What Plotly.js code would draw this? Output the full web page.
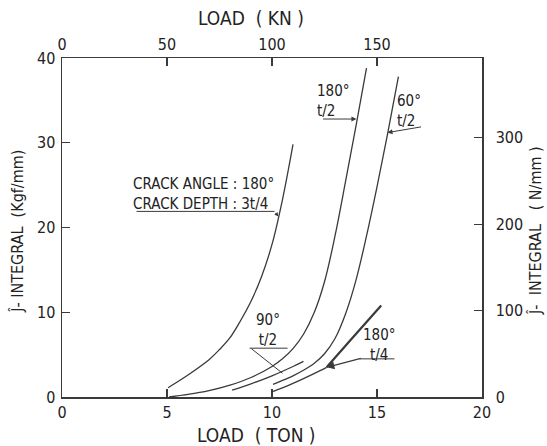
<!DOCTYPE html>
<html>
<head>
<meta charset="utf-8">
<script src="https://cdn.plot.ly/plotly-3.0.1.min.js"></script>
<style>html,body{margin:0;padding:0;background:#fff;}#chart{width:547px;height:446px;}</style>
</head>
<body>
<div id="chart"></div>
<script>
// LOAD (TON) vs J-INTEGRAL (Kgf/mm)
const a180_3t4_x = [5.05, 6.0, 7.0, 7.5, 8.0, 8.5, 9.0, 9.5, 10.0, 10.5, 11.0];
const a180_3t4_y = [1.1, 2.6, 4.4, 5.6, 7.0, 9.0, 11.3, 14.2, 18.0, 23.3, 29.8];

const a180_t2_x = [5.1, 6.0, 7.0, 8.0, 9.0, 10.0, 10.5, 11.0, 11.5, 12.0, 12.5, 13.0, 13.5, 14.0, 14.5];
const a180_t2_y = [0.0, 0.3, 0.75, 1.4, 2.3, 3.6, 4.5, 5.7, 7.4, 9.9, 13.6, 19.0, 25.4, 32.0, 38.8];

const a90_t2_x = [8.1, 9.0, 10.0, 11.0, 11.5];
const a90_t2_y = [0.8, 1.55, 2.5, 3.6, 4.2];

const a60_t2_x = [10.05, 10.5, 11.0, 11.5, 12.0, 12.5, 13.0, 13.5, 14.0, 14.5, 15.0, 15.5, 16.02];
const a60_t2_y = [1.5, 1.95, 2.5, 3.15, 3.95, 5.1, 6.9, 9.8, 13.8, 19.0, 24.8, 31.0, 37.8];

const a180_t4_lo_x = [10.0, 11.0, 12.0, 12.6];
const a180_t4_lo_y = [0.6, 1.6, 2.75, 3.5];
const a180_t4_hi_x = [12.6, 13.7, 15.2];
const a180_t4_hi_y = [3.5, 6.6, 10.8];

const xTonTicks = [0, 5, 10, 15, 20];
const xKnTicks = [0, 50, 100, 150];
const yKgfTicks = [0, 10, 20, 30, 40];
const yNTicks = [0, 100, 200, 300];

const LC = '#3a3a3a';
const TC = '#222';
const FONT = 'DejaVu Sans Condensed, DejaVu Sans, sans-serif';

function line(x, y, w) {
  return {x: x, y: y, type: 'scatter', mode: 'lines', line: {color: LC, width: w, shape: 'spline', smoothing: 1}, showlegend: false, hoverinfo: 'skip'};
}

const data = [
  line(a180_3t4_x, a180_3t4_y, 1.3),
  line(a180_t2_x, a180_t2_y, 1.3),
  line(a90_t2_x, a90_t2_y, 1.3),
  line(a60_t2_x, a60_t2_y, 1.3),
  line(a180_t4_lo_x, a180_t4_lo_y, 1.3),
  line(a180_t4_hi_x, a180_t4_hi_y, 2.2),
  {x: [null], y: [null], xaxis: 'x2', yaxis: 'y2', type: 'scatter', mode: 'lines', showlegend: false}
];

const axBase = {
  showgrid: false, zeroline: false, showline: true, linecolor: LC, linewidth: 1.5,
  ticks: 'inside', ticklen: 8, tickwidth: 1.2, tickcolor: LC,
  tickfont: {family: FONT, size: 16, color: TC}, tickmode: 'array'
};

const TF = {family: FONT, size: 19, color: TC};

const layout = {
  width: 547, height: 446,
  margin: {l: 62, r: 65, t: 58, b: 49},
  paper_bgcolor: '#fff', plot_bgcolor: '#fff',
  font: {family: FONT, color: TC},
  xaxis: Object.assign({}, axBase, {range: [0, 20], tickvals: xTonTicks, ticktext: xTonTicks.map(String)}),
  xaxis2: Object.assign({}, axBase, {range: [0, 200], overlaying: 'x', side: 'top', anchor: 'y', tickvals: xKnTicks, ticktext: xKnTicks.map(String)}),
  yaxis: Object.assign({}, axBase, {range: [0, 40], tickvals: yKgfTicks, ticktext: yKgfTicks.map(String), ticklabelstandoff: 2}),
  yaxis2: Object.assign({}, axBase, {range: [0, 40 * 9.807], overlaying: 'y', side: 'right', anchor: 'x', tickvals: yNTicks, ticktext: yNTicks.map(String), ticklabelstandoff: 9}),
  annotations: [
    // axis titles
    {x: 0.45, y: 1.118, xref: 'paper', yref: 'paper', xanchor: 'center', yanchor: 'middle', showarrow: false,
     text: 'LOAD  ( KN )', font: TF},
    {x: 0.464, y: -0.112, xref: 'paper', yref: 'paper', xanchor: 'center', yanchor: 'middle', showarrow: false,
     text: 'LOAD  ( TON )', font: TF},
    {x: -0.105, y: 0.49, xref: 'paper', yref: 'paper', xanchor: 'center', yanchor: 'middle', showarrow: false, textangle: -90,
     text: 'Ĵ- INTEGRAL  (Kgf/mm)', font: {family: FONT, size: 16, color: TC}},
    {x: 1.1286, y: 0.49, xref: 'paper', yref: 'paper', xanchor: 'center', yanchor: 'middle', showarrow: false, textangle: -90,
     text: 'Ĵ-  INTEGRAL   ( N/mm )', font: {family: FONT, size: 16, color: TC}},
    // curve labels
    {x: 3.3, y: 24.0, xref: 'x', yref: 'y', xanchor: 'left', yanchor: 'middle', align: 'left', showarrow: false,
     text: 'CRACK ANGLE : 180°<br>CRACK DEPTH : 3t/4', font: {family: FONT, size: 15, color: TC}},
    {x: 12.05, y: 34.9, xref: 'x', yref: 'y', xanchor: 'left', yanchor: 'middle', align: 'left', showarrow: false,
     text: '180°<br>t/2', font: {family: FONT, size: 15, color: TC}},
    {x: 15.85, y: 33.8, xref: 'x', yref: 'y', xanchor: 'left', yanchor: 'middle', align: 'left', showarrow: false,
     text: '60°<br>t/2', font: {family: FONT, size: 15, color: TC}},
    {x: 9.8, y: 7.9, xref: 'x', yref: 'y', xanchor: 'center', yanchor: 'middle', align: 'center', showarrow: false,
     text: '90°<br>t/2', font: {family: FONT, size: 15, color: TC}},
    {x: 15.1, y: 6.1, xref: 'x', yref: 'y', xanchor: 'center', yanchor: 'middle', align: 'center', showarrow: false,
     text: '180°<br>t/4', font: {family: FONT, size: 15, color: TC}},
    // leader arrows
    {x: 14.02, y: 32.8, ax: 12.36, ay: 32.8, xref: 'x', yref: 'y', axref: 'x', ayref: 'y', text: '', showarrow: true,
     arrowhead: 2, arrowsize: 1, arrowwidth: 1, arrowcolor: LC},
    {x: 15.5, y: 31.2, ax: 17.17, ay: 31.9, xref: 'x', yref: 'y', axref: 'x', ayref: 'y', text: '', showarrow: true,
     arrowhead: 2, arrowsize: 1, arrowwidth: 1, arrowcolor: LC},
    {x: 12.6, y: 3.5, ax: 14.3, ay: 4.6, xref: 'x', yref: 'y', axref: 'x', ayref: 'y', text: '', showarrow: true,
     arrowhead: 2, arrowsize: 1.3, arrowwidth: 1.2, arrowcolor: LC},
    {x: 10.3, y: 21.3, ax: 10.12, ay: 21.9, xref: 'x', yref: 'y', axref: 'x', ayref: 'y', text: '', showarrow: true,
     arrowhead: 2, arrowsize: 0.8, arrowwidth: 1, arrowcolor: LC}
  ],
  shapes: [
    {type: 'line', xref: 'x', yref: 'y', x0: 3.55, x1: 10.12, y0: 21.9, y1: 21.9, line: {color: LC, width: 1}},
    {type: 'line', xref: 'x', yref: 'y', x0: 8.93, x1: 10.74, y0: 5.76, y1: 5.76, line: {color: LC, width: 1}},
    {type: 'line', xref: 'x', yref: 'y', x0: 9.02, x1: 10.5, y0: 5.7, y1: 2.8, line: {color: LC, width: 1}},
    {type: 'line', xref: 'x', yref: 'y', x0: 14.17, x1: 15.83, y0: 4.5, y1: 4.5, line: {color: LC, width: 1}}
  ]
};

Plotly.newPlot('chart', data, layout, {displayModeBar: false, staticPlot: true});
</script>
</body>
</html>
